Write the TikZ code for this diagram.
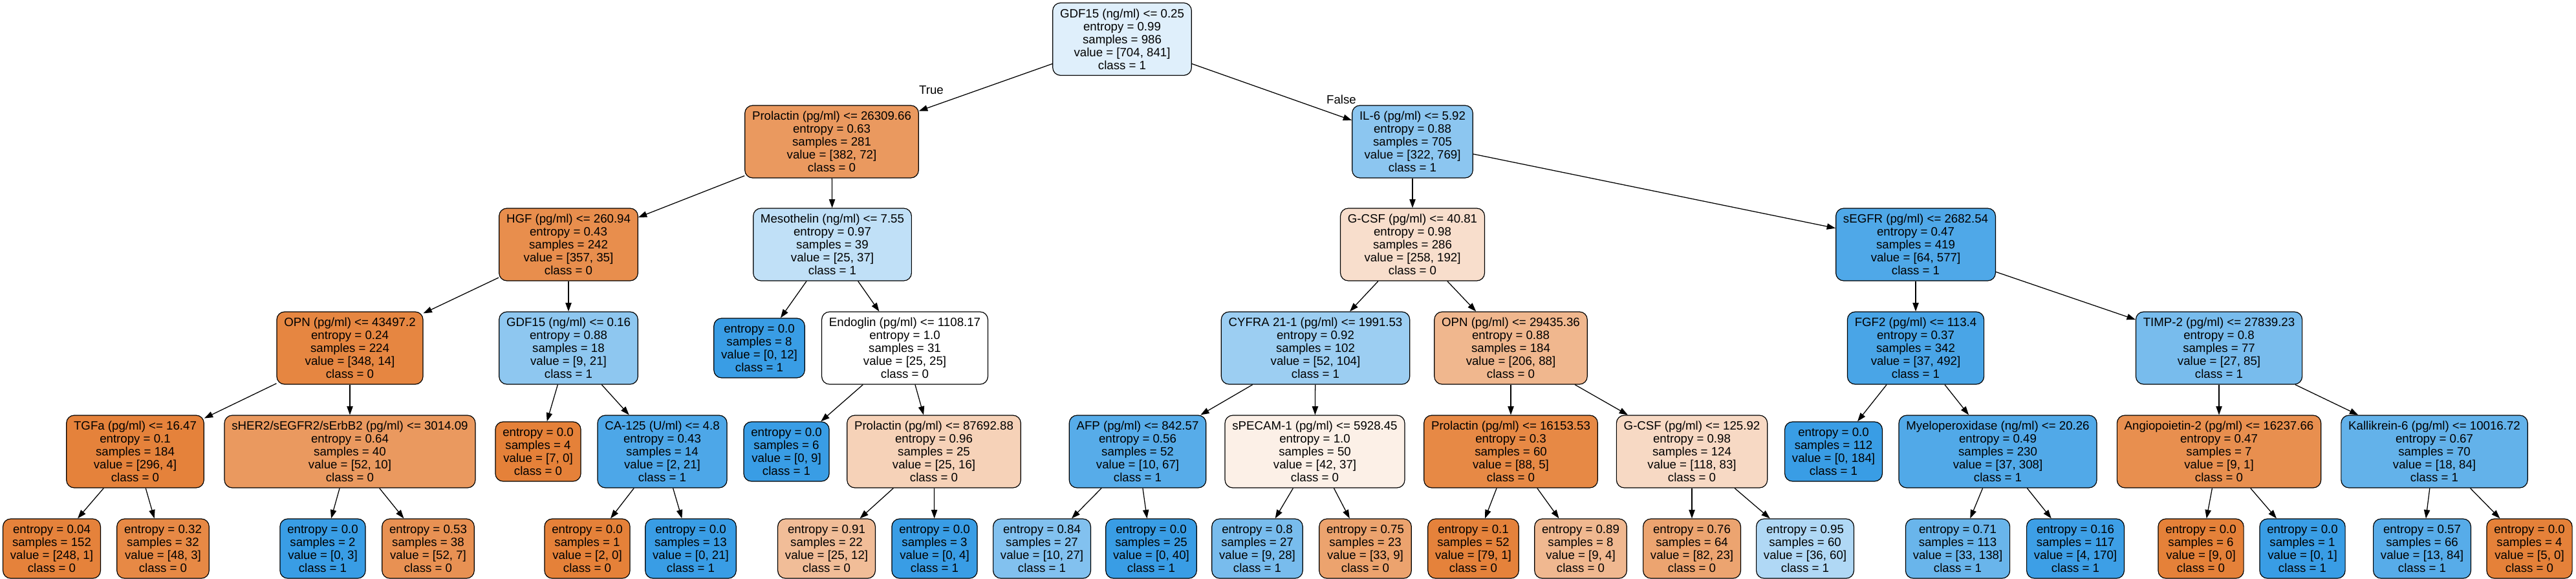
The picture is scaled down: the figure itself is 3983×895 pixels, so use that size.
\documentclass[tikz,border=0pt]{standalone}
\usepackage{amsmath}
\usepackage{amssymb}
\usepackage{fontspec}
\setmainfont{Liberation Sans}
\usepackage{tikz}
\usetikzlibrary{arrows.meta}
\definecolor{cls0}{RGB}{229,129,57}
\definecolor{cls1}{RGB}{57,157,229}

\begin{document}
\begin{tikzpicture}[x=0.75pt,y=0.75pt,yscale=-1,xscale=1,
  every node/.style={font=\fontsize{14pt}{15pt}\selectfont},
  split/.style={draw, line width=0.9pt, rounded corners=9pt, align=center, inner xsep=8.5pt, inner ysep=0pt, minimum height=84pt},
  leaf/.style={split, minimum height=69pt},
  edge/.style={line width=0.95pt, -{Triangle[length=10pt,width=7pt]}},
  lbl/.style={inner sep=0pt}]
%set diagram left start at 0, and has height of 895
\useasboundingbox (0,0) rectangle (3983,895);

% Split Node
\node [split, fill=cls1!16] (root) at (1735,60.5) {GDF15 (ng/ml) <= 0.25\\entropy = 0.99\\samples = 986\\value = [704, 841]\\class = 1};
% Split Node
\node [split, fill=cls0!81] (proA) at (1286,219) {Prolactin (pg/ml) <= 26309.66\\entropy = 0.63\\samples = 281\\value = [382, 72]\\class = 0};
% Split Node
\node [split, fill=cls1!58] (ilsix) at (2184,219) {IL-6 (pg/ml) <= 5.92\\entropy = 0.88\\samples = 705\\value = [322, 769]\\class = 1};
% Split Node
\node [split, fill=cls0!90] (hgf) at (879,378) {HGF (pg/ml) <= 260.94\\entropy = 0.43\\samples = 242\\value = [357, 35]\\class = 0};
% Split Node
\node [split, fill=cls1!32] (meso) at (1287,378) {Mesothelin (ng/ml) <= 7.55\\entropy = 0.97\\samples = 39\\value = [25, 37]\\class = 1};
% Split Node
\node [split, fill=cls0!26] (gcsfA) at (2184,378) {G-CSF (pg/ml) <= 40.81\\entropy = 0.98\\samples = 286\\value = [258, 192]\\class = 0};
% Split Node
\node [split, fill=cls1!89] (segfr) at (2962,378) {sEGFR (pg/ml) <= 2682.54\\entropy = 0.47\\samples = 419\\value = [64, 577]\\class = 1};
% Split Node
\node [split, fill=cls0!96] (opnA) at (541,538) {OPN (pg/ml) <= 43497.2\\entropy = 0.24\\samples = 224\\value = [348, 14]\\class = 0};
% Split Node
\node [split, fill=cls1!57] (gdfB) at (879,538) {GDF15 (ng/ml) <= 0.16\\entropy = 0.88\\samples = 18\\value = [9, 21]\\class = 1};
% Leaf Node
\node [leaf, fill=cls1] (leafA) at (1174,538) {entropy = 0.0\\samples = 8\\value = [0, 12]\\class = 1};
% Split Node
\node [split, fill=white] (endo) at (1399,538) {Endoglin (pg/ml) <= 1108.17\\entropy = 1.0\\samples = 31\\value = [25, 25]\\class = 0};
% Split Node
\node [split, fill=cls1!50] (cyfra) at (2034,538) {CYFRA 21-1 (pg/ml) <= 1991.53\\entropy = 0.92\\samples = 102\\value = [52, 104]\\class = 1};
% Split Node
\node [split, fill=cls0!57] (opnB) at (2336,538) {OPN (pg/ml) <= 29435.36\\entropy = 0.88\\samples = 184\\value = [206, 88]\\class = 0};
% Split Node
\node [split, fill=cls1!92] (fgf) at (2962,538) {FGF2 (pg/ml) <= 113.4\\entropy = 0.37\\samples = 342\\value = [37, 492]\\class = 1};
% Split Node
\node [split, fill=cls1!68] (timp) at (3431,538) {TIMP-2 (pg/ml) <= 27839.23\\entropy = 0.8\\samples = 77\\value = [27, 85]\\class = 1};
% Split Node
\node [split, fill=cls0!99] (tgfa) at (209,698) {TGFa (pg/ml) <= 16.47\\entropy = 0.1\\samples = 184\\value = [296, 4]\\class = 0};
% Split Node
\node [split, fill=cls0!81] (sher) at (541,698) {sHER2/sEGFR2/sErbB2 (pg/ml) <= 3014.09\\entropy = 0.64\\samples = 40\\value = [52, 10]\\class = 0};
% Leaf Node
\node [leaf, fill=cls0] (leafB) at (832,698) {entropy = 0.0\\samples = 4\\value = [7, 0]\\class = 0};
% Split Node
\node [split, fill=cls1!90] (ca) at (1024,698) {CA-125 (U/ml) <= 4.8\\entropy = 0.43\\samples = 14\\value = [2, 21]\\class = 1};
% Leaf Node
\node [leaf, fill=cls1] (leafC) at (1216,698) {entropy = 0.0\\samples = 6\\value = [0, 9]\\class = 1};
% Split Node
\node [split, fill=cls0!36] (proB) at (1444,698) {Prolactin (pg/ml) <= 87692.88\\entropy = 0.96\\samples = 25\\value = [25, 16]\\class = 0};
% Split Node
\node [split, fill=cls1!85] (afp) at (1759,698) {AFP (pg/ml) <= 842.57\\entropy = 0.56\\samples = 52\\value = [10, 67]\\class = 1};
% Split Node
\node [split, fill=cls0!12] (specam) at (2033,698) {sPECAM-1 (pg/ml) <= 5928.45\\entropy = 1.0\\samples = 50\\value = [42, 37]\\class = 0};
% Split Node
\node [split, fill=cls0!94] (proC) at (2336,698) {Prolactin (pg/ml) <= 16153.53\\entropy = 0.3\\samples = 60\\value = [88, 5]\\class = 0};
% Split Node
\node [split, fill=cls0!30] (gcsfB) at (2616,698) {G-CSF (pg/ml) <= 125.92\\entropy = 0.98\\samples = 124\\value = [118, 83]\\class = 0};
% Leaf Node
\node [leaf, fill=cls1] (leafD) at (2835,698) {entropy = 0.0\\samples = 112\\value = [0, 184]\\class = 1};
% Split Node
\node [split, fill=cls1!88] (myelo) at (3089,698) {Myeloperoxidase (ng/ml) <= 20.26\\entropy = 0.49\\samples = 230\\value = [37, 308]\\class = 1};
% Split Node
\node [split, fill=cls0!89] (angio) at (3431,698) {Angiopoietin-2 (pg/ml) <= 16237.66\\entropy = 0.47\\samples = 7\\value = [9, 1]\\class = 0};
% Split Node
\node [split, fill=cls1!79] (kalli) at (3764,698) {Kallikrein-6 (pg/ml) <= 10016.72\\entropy = 0.67\\samples = 70\\value = [18, 84]\\class = 1};
% Leaf Node
\node [leaf, fill=cls0!99] (lfAa) at (80,848) {entropy = 0.04\\samples = 152\\value = [248, 1]\\class = 0};
% Leaf Node
\node [leaf, fill=cls0!94] (lfAb) at (252,848) {entropy = 0.32\\samples = 32\\value = [48, 3]\\class = 0};
% Leaf Node
\node [leaf, fill=cls1] (lfBa) at (499,848) {entropy = 0.0\\samples = 2\\value = [0, 3]\\class = 1};
% Leaf Node
\node [leaf, fill=cls0!87] (lfBb) at (662,848) {entropy = 0.53\\samples = 38\\value = [52, 7]\\class = 0};
% Leaf Node
\node [leaf, fill=cls0] (lfCa) at (908,848) {entropy = 0.0\\samples = 1\\value = [2, 0]\\class = 0};
% Leaf Node
\node [leaf, fill=cls1] (lfCb) at (1068,848) {entropy = 0.0\\samples = 13\\value = [0, 21]\\class = 1};
% Leaf Node
\node [leaf, fill=cls0!52] (lfDa) at (1278,848) {entropy = 0.91\\samples = 22\\value = [25, 12]\\class = 0};
% Leaf Node
\node [leaf, fill=cls1] (lfDb) at (1445,848) {entropy = 0.0\\samples = 3\\value = [0, 4]\\class = 1};
% Leaf Node
\node [leaf, fill=cls1!63] (lfEa) at (1611,848) {entropy = 0.84\\samples = 27\\value = [10, 27]\\class = 1};
% Leaf Node
\node [leaf, fill=cls1] (lfEb) at (1780,848) {entropy = 0.0\\samples = 25\\value = [0, 40]\\class = 1};
% Leaf Node
\node [leaf, fill=cls1!68] (lfFa) at (1944,848) {entropy = 0.8\\samples = 27\\value = [9, 28]\\class = 1};
% Leaf Node
\node [leaf, fill=cls0!73] (lfFb) at (2111,848) {entropy = 0.75\\samples = 23\\value = [33, 9]\\class = 0};
% Leaf Node
\node [leaf, fill=cls0!99] (lfGa) at (2278,848) {entropy = 0.1\\samples = 52\\value = [79, 1]\\class = 0};
% Leaf Node
\node [leaf, fill=cls0!56] (lfGb) at (2444,848) {entropy = 0.89\\samples = 8\\value = [9, 4]\\class = 0};
% Leaf Node
\node [leaf, fill=cls0!72] (lfHa) at (2616,848) {entropy = 0.76\\samples = 64\\value = [82, 23]\\class = 0};
% Leaf Node
\node [leaf, fill=cls1!40] (lfHb) at (2791,848) {entropy = 0.95\\samples = 60\\value = [36, 60]\\class = 1};
% Leaf Node
\node [leaf, fill=cls1!76] (lfIa) at (3027,848) {entropy = 0.71\\samples = 113\\value = [33, 138]\\class = 1};
% Leaf Node
\node [leaf, fill=cls1!98] (lfIb) at (3209,848) {entropy = 0.16\\samples = 117\\value = [4, 170]\\class = 1};
% Leaf Node
\node [leaf, fill=cls0] (lfJa) at (3403,848) {entropy = 0.0\\samples = 6\\value = [9, 0]\\class = 0};
% Leaf Node
\node [leaf, fill=cls1] (lfJb) at (3560,848) {entropy = 0.0\\samples = 1\\value = [0, 1]\\class = 1};
% Leaf Node
\node [leaf, fill=cls1!85] (lfKa) at (3745,848) {entropy = 0.57\\samples = 66\\value = [13, 84]\\class = 1};
% Leaf Node
\node [leaf, fill=cls0] (lfKb) at (3911,848) {entropy = 0.0\\samples = 4\\value = [5, 0]\\class = 0};

% Text Node
\node [lbl] (truelbl) at (1440,139) {True};
% Text Node
\node [lbl] (falselbl) at (2074,154) {False};

%Straight Lines
\draw [edge] (root) -- (proA);
%Straight Lines
\draw [edge] (root) -- (ilsix);
%Straight Lines
\draw [edge] (proA) -- (hgf);
%Straight Lines
\draw [edge] (proA) -- (meso);
%Straight Lines
\draw [edge] (ilsix) -- (gcsfA);
%Straight Lines
\draw [edge] (ilsix) -- (segfr);
%Straight Lines
\draw [edge] (hgf) -- (opnA);
%Straight Lines
\draw [edge] (hgf) -- (gdfB);
%Straight Lines
\draw [edge] (meso) -- (leafA);
%Straight Lines
\draw [edge] (meso) -- (endo);
%Straight Lines
\draw [edge] (gcsfA) -- (cyfra);
%Straight Lines
\draw [edge] (gcsfA) -- (opnB);
%Straight Lines
\draw [edge] (segfr) -- (fgf);
%Straight Lines
\draw [edge] (segfr) -- (timp);
%Straight Lines
\draw [edge] (opnA) -- (tgfa);
%Straight Lines
\draw [edge] (opnA) -- (sher);
%Straight Lines
\draw [edge] (gdfB) -- (leafB);
%Straight Lines
\draw [edge] (gdfB) -- (ca);
%Straight Lines
\draw [edge] (endo) -- (leafC);
%Straight Lines
\draw [edge] (endo) -- (proB);
%Straight Lines
\draw [edge] (cyfra) -- (afp);
%Straight Lines
\draw [edge] (cyfra) -- (specam);
%Straight Lines
\draw [edge] (opnB) -- (proC);
%Straight Lines
\draw [edge] (opnB) -- (gcsfB);
%Straight Lines
\draw [edge] (fgf) -- (leafD);
%Straight Lines
\draw [edge] (fgf) -- (myelo);
%Straight Lines
\draw [edge] (timp) -- (angio);
%Straight Lines
\draw [edge] (timp) -- (kalli);
%Straight Lines
\draw [edge] (tgfa) -- (lfAa);
%Straight Lines
\draw [edge] (tgfa) -- (lfAb);
%Straight Lines
\draw [edge] (sher) -- (lfBa);
%Straight Lines
\draw [edge] (sher) -- (lfBb);
%Straight Lines
\draw [edge] (ca) -- (lfCa);
%Straight Lines
\draw [edge] (ca) -- (lfCb);
%Straight Lines
\draw [edge] (proB) -- (lfDa);
%Straight Lines
\draw [edge] (proB) -- (lfDb);
%Straight Lines
\draw [edge] (afp) -- (lfEa);
%Straight Lines
\draw [edge] (afp) -- (lfEb);
%Straight Lines
\draw [edge] (specam) -- (lfFa);
%Straight Lines
\draw [edge] (specam) -- (lfFb);
%Straight Lines
\draw [edge] (proC) -- (lfGa);
%Straight Lines
\draw [edge] (proC) -- (lfGb);
%Straight Lines
\draw [edge] (gcsfB) -- (lfHa);
%Straight Lines
\draw [edge] (gcsfB) -- (lfHb);
%Straight Lines
\draw [edge] (myelo) -- (lfIa);
%Straight Lines
\draw [edge] (myelo) -- (lfIb);
%Straight Lines
\draw [edge] (angio) -- (lfJa);
%Straight Lines
\draw [edge] (angio) -- (lfJb);
%Straight Lines
\draw [edge] (kalli) -- (lfKa);
%Straight Lines
\draw [edge] (kalli) -- (lfKb);

\end{tikzpicture}
\end{document}
